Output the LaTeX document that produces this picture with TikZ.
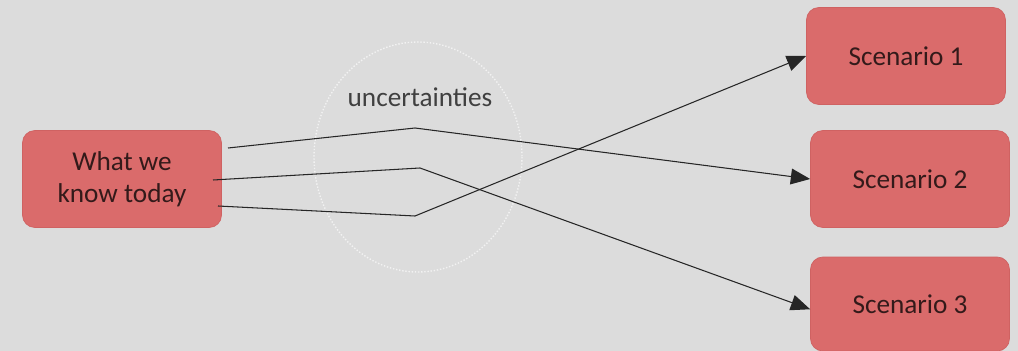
\documentclass[tikz,border=0pt]{standalone}
\usepackage{fontspec}
\setmainfont{Carlito}
\usepackage{xcolor}
\usepackage{tikz}
\usetikzlibrary{arrows.meta, positioning}
\definecolor{canvas}{HTML}{DCDCDC}
\definecolor{boxred}{HTML}{DA6B6B}
\definecolor{boxedge}{HTML}{CF6262}
\definecolor{inkdark}{HTML}{331A1A}
\definecolor{ringgray}{HTML}{F2F2F2}

\begin{document}
\begin{tikzpicture}[x=0.02cm, y=-0.02cm,
  box/.style={draw=boxedge, fill=boxred, rounded corners=7pt, minimum width=3.98cm,
              minimum height=1.94cm, align=center, text=inkdark,
              font=\fontsize{15.5}{18.5}\selectfont},
  arr/.style={-{Triangle[length=11pt, width=9pt]}, line width=0.6pt, color=black!85},
  ring/.style={draw=ringgray, densely dotted, line width=0.8pt}
]
\fill[canvas] (0,0) rectangle (1018,351);
\useasboundingbox (0,0) rectangle (1018,351);

\draw[ring] (418,157) ellipse [x radius=104, y radius=115];
\node[font=\fontsize{15.5}{18.5}\selectfont, text=black!75] (unc) at (420,97) {uncertainties};

\node[box] (known) at (122,179) {What we\\know today};
\node[box] (s1) at (906,56)  {Scenario 1};
\node[box] (s2) at (910,179) {Scenario 2};
\node[box, minimum height=1.88cm] (s3) at (910,304) {Scenario 3};

% start and bend points inside the ring
\coordinate (a0) at (228,148); \coordinate (a1) at (415,128);
\coordinate (b0) at (213,180); \coordinate (b1) at (420,168);
\coordinate (c0) at (218,206); \coordinate (c1) at (415,216);

\draw[arr] (a0) -- (a1) -- (s2.west);
\draw[arr] (b0) -- (b1) -- ([yshift=-3pt]s3.west);
\draw[arr] (c0) -- (c1) -- (s1.west);
\end{tikzpicture}
\end{document}
